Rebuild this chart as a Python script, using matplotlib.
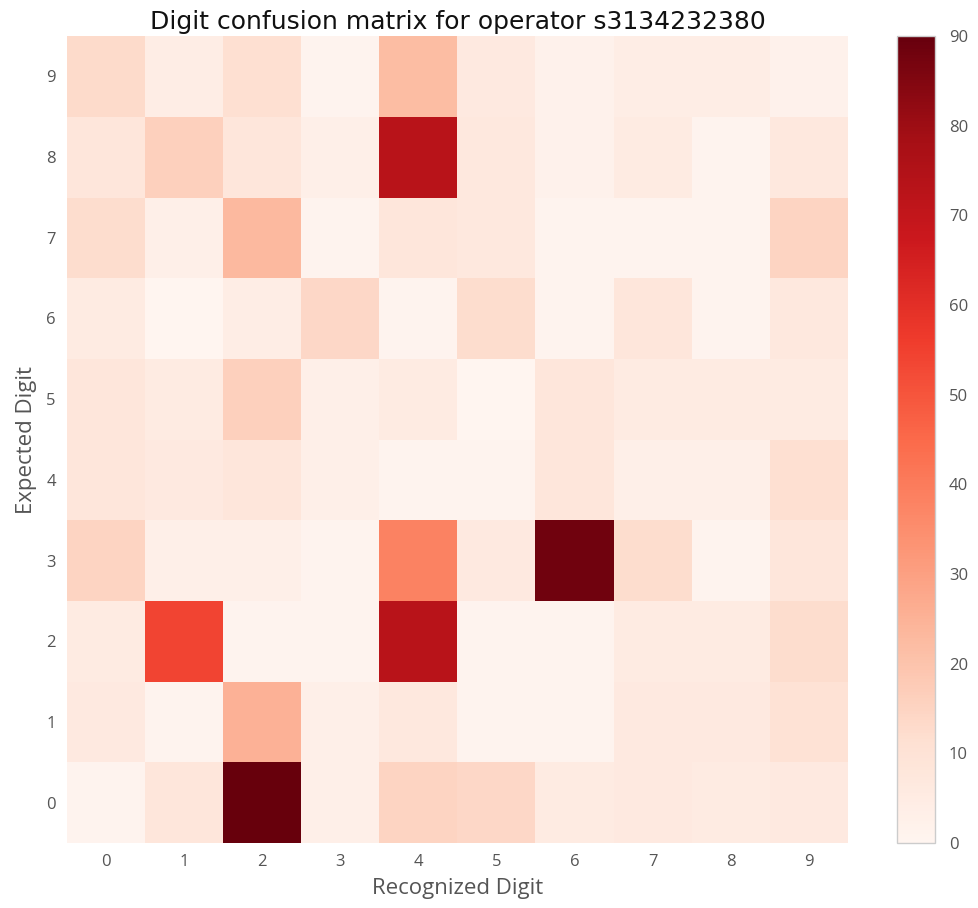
import matplotlib
matplotlib.use("Agg")
import matplotlib.pyplot as plt
import numpy as np

digits = [0, 1, 2, 3, 4, 5, 6, 7, 8, 9]

# rows = expected digit 0..9, columns = recognized digit 0..9
row0 = [1, 8, 90, 3, 15, 14, 5, 6, 5, 6]
row1 = [6, 1, 25, 3, 7, 1, 1, 6, 6, 10]
row2 = [5, 54, 1, 1, 73, 1, 1, 5, 5, 12]
row3 = [15, 3, 3, 1, 38, 6, 88, 12, 1, 8]
row4 = [8, 6, 8, 3, 1, 1, 8, 3, 3, 11]
row5 = [8, 5, 16, 3, 5, 0, 8, 5, 5, 5]
row6 = [5, 0, 4, 14, 1, 12, 1, 8, 1, 7]
row7 = [12, 3, 23, 1, 8, 7, 1, 1, 1, 15]
row8 = [8, 16, 8, 3, 73, 7, 2, 5, 1, 7]
row9 = [13, 4, 11, 1, 22, 6, 2, 4, 4, 2]

matrix = np.array([row0, row1, row2, row3, row4, row5, row6, row7, row8, row9])

title = "Digit confusion matrix for operator s3134232380"
xlabel = "Recognized Digit"
ylabel = "Expected Digit"
cbar_ticks = [0, 10, 20, 30, 40, 50, 60, 70, 80, 90]

W, H = 979, 908
fig = plt.figure(figsize=(W / 100, H / 100), dpi=100)
ax = fig.add_axes([67 / W, (H - 843) / H, (848 - 67) / W, (843 - 36) / H])
im = ax.imshow(matrix, cmap="Reds", origin="lower", aspect="auto",
               vmin=0, vmax=matrix.max(), interpolation="nearest")

gray = "#555555"
lab_font = ["Open Sans", "DejaVu Sans"]
ax.set_xticks(range(len(digits)))
ax.set_yticks(range(len(digits)))
ax.set_xticklabels([str(d) for d in digits], family=lab_font)
ax.set_yticklabels([str(d) for d in digits], family=lab_font)
ax.tick_params(axis="both", length=0, labelsize=12, colors=gray, pad=8)
for s in ax.spines.values():
    s.set_visible(False)
ax.set_title(title, fontsize=18, color="#111111", pad=5, family="DejaVu Sans")
ax.set_xlabel(xlabel, fontsize=16, color=gray, labelpad=6, family=lab_font)
ax.set_ylabel(ylabel, fontsize=16, color=gray, labelpad=7, family=lab_font)

cax = fig.add_axes([897 / W, (H - 843) / H, (935 - 897) / W, (843 - 36) / H])
cb = fig.colorbar(im, cax=cax, ticks=cbar_ticks)
cb.outline.set_edgecolor("#cccccc")
cb.outline.set_linewidth(1.0)
cax.tick_params(length=0, labelsize=12, colors=gray, pad=10)
for t in cax.get_yticklabels():
    t.set_family(lab_font)

fig.savefig("out.png", dpi=100)
